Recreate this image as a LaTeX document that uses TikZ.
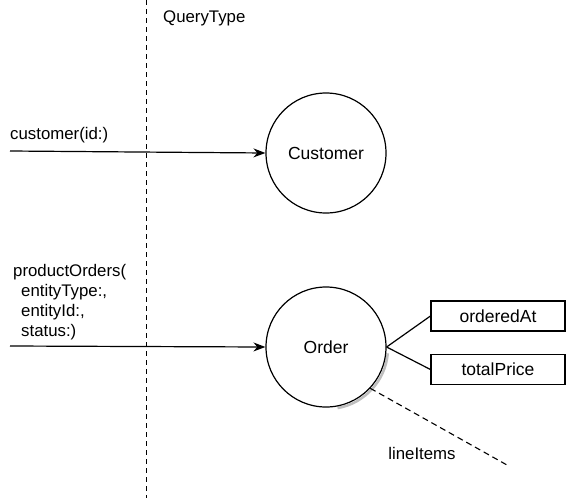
\documentclass[tikz,border=0pt]{standalone}
\usepackage{fontspec}
\setmainfont{Liberation Sans}
\usetikzlibrary{arrows.meta, positioning}

\begin{document}
\begin{tikzpicture}[x=1pt, y=-1pt,
  type/.style={draw, circle, minimum size=120pt, inner sep=0pt, line width=1.2pt, fill=white, font=\fontsize{17.5}{20}\selectfont},
  field/.style={draw, rectangle, minimum width=134pt, minimum height=30pt, inner sep=0pt, line width=1.1pt, font=\fontsize{17.5}{20}\selectfont},
  txt/.style={inner sep=0pt, font=\fontsize{16.8}{20}\selectfont},
  query/.style={-{Stealth[length=12pt, width=9pt]}, line width=1.2pt},
]
  \useasboundingbox (0,0) rectangle (569,498);

  % boundary of the query type
  \coordinate (qtop) at (146,0);
  \coordinate (qbot) at (146,498);
  \draw[line width=1pt, dash pattern=on 5pt off 4pt] (qtop) -- (qbot);
  \node[txt, anchor=west] (querytype) at (163,18) {QueryType};

  % types
  \draw[black!25, line width=2.5pt] (327,348) ++(5:61) arc[start angle=5, end angle=80, radius=61];
  \node[type] (customer) at (326,153) {Customer};
  \node[type] (order) at (326,347) {Order};
  \node[field] (orderedAt) at (498,316) {orderedAt};
  \node[field] (totalPrice) at (498,369.5) {totalPrice};

  % query fields
  \coordinate (custin) at (10,151);
  \draw[query] (custin) -- (customer.west);
  \node[txt, anchor=west] (custlabel) at (10,135) {customer(id:)};

  \coordinate (orderin) at (10,346);
  \draw[query] (orderin) -- (order.west);
  \node[txt, anchor=north west, align=left] (orderlabel) at (13,264)
    {productOrders(\\\hspace{8pt}entityType:,\\\hspace{8pt}entityId:,\\\hspace{8pt}status:)};

  % scalar fields
  \draw[line width=1.2pt] (order.east) -- (orderedAt.west);
  \draw[line width=1.2pt] (order.east) -- (totalPrice.west);

  % connection
  \coordinate (itemsend) at (507,465);
  \draw[line width=1.1pt, dash pattern=on 6pt off 4pt] (order.-43) -- (itemsend);
  \node[txt] (itemslabel) at (422,453) {lineItems};
\end{tikzpicture}
\end{document}
